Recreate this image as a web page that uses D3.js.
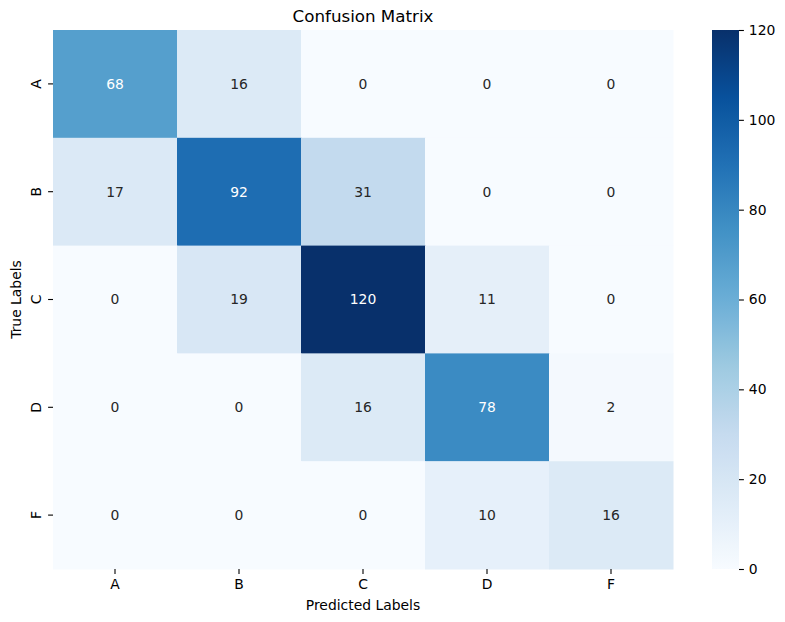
<!DOCTYPE html>
<html lang="en">
<head>
  <meta charset="UTF-8">
  <title>Confusion Matrix</title>
  <script src="https://d3js.org/d3.v7.min.js"></script>
  <style>
    body { margin: 0; background: white; }
    svg { display: block; font-family: "DejaVu Sans", sans-serif; }
  </style>
</head>
<body>
  <div id="chart"></div>
  <script>
    // confusion matrix values, rows = true label, columns = predicted label
    const trueLabels = ["A", "B", "C", "D", "F"];
    const predLabels = ["A", "B", "C", "D", "F"];
    const matrix = [
      [68, 16, 0, 0, 0],
      [17, 92, 31, 0, 0],
      [0, 19, 120, 11, 0],
      [0, 0, 16, 78, 2],
      [0, 0, 0, 10, 16]
    ];
    const colorTicks = [0, 20, 40, 60, 80, 100, 120];

    const width = 785, height = 622;
    const plot = { left: 53, top: 30, right: 673, bottom: 569 };
    const bar = { left: 712, right: 739 };

    // matplotlib "Blues" (linear segments)
    const blues = ["#f7fbff", "#deebf7", "#c6dbef", "#9ecae1", "#6baed6", "#4292c6", "#2171b5", "#08519c", "#08306b"];
    const color = d3.scaleLinear()
      .domain(d3.range(blues.length).map(i => i * 120 / (blues.length - 1)))
      .range(blues)
      .interpolate(d3.interpolateRgb);

    const x = d3.scaleBand().domain(predLabels).range([plot.left, plot.right]);
    const y = d3.scaleBand().domain(trueLabels).range([plot.top, plot.bottom]);

    const svg = d3.select("#chart").append("svg")
      .attr("width", width).attr("height", height);

    const cells = [];
    matrix.forEach((row, i) => row.forEach((v, j) => cells.push({ r: trueLabels[i], c: predLabels[j], v })));

    svg.append("g").selectAll("rect")
      .data(cells).join("rect")
        .attr("x", d => x(d.c))
        .attr("y", d => y(d.r))
        .attr("width", x.bandwidth() + 0.5)
        .attr("height", y.bandwidth() + 0.5)
        .attr("fill", d => color(d.v));

    function textColor(v) {
      const c = d3.rgb(color(v));
      const lum = [c.r, c.g, c.b].map(u => {
        u /= 255;
        return u <= 0.03928 ? u / 12.92 : Math.pow((u + 0.055) / 1.055, 2.4);
      });
      const l = 0.2126 * lum[0] + 0.7152 * lum[1] + 0.0722 * lum[2];
      return l > 0.408 ? "#262626" : "white";
    }

    svg.append("g").selectAll("text")
      .data(cells).join("text")
        .attr("x", d => x(d.c) + x.bandwidth() / 2)
        .attr("y", d => y(d.r) + y.bandwidth() / 2)
        .attr("dy", "0.35em")
        .attr("text-anchor", "middle")
        .attr("font-size", 13.9)
        .attr("fill", d => textColor(d.v))
        .text(d => d.v);

    // x axis
    const xAxis = svg.append("g")
      .attr("transform", `translate(0,${plot.bottom})`)
      .call(d3.axisBottom(x).tickSize(4.9).tickPadding(4.9));
    xAxis.select(".domain").remove();
    xAxis.selectAll("text").attr("font-size", 13.9).attr("font-family", "DejaVu Sans").attr("fill", "black");
    xAxis.selectAll("line").attr("stroke", "black").attr("stroke-width", 1.1);

    // y axis, labels rotated
    const yAxis = svg.append("g")
      .attr("transform", `translate(${plot.left},0)`)
      .call(d3.axisLeft(y).tickSize(4.9).tickPadding(4.9));
    yAxis.select(".domain").remove();
    yAxis.selectAll("line").attr("stroke", "black").attr("stroke-width", 1.1);
    yAxis.selectAll("text")
      .attr("font-size", 13.9).attr("font-family", "DejaVu Sans").attr("fill", "black")
      .attr("x", null).attr("dy", null)
      .attr("text-anchor", "middle")
      .attr("transform", "translate(-12,0) rotate(-90)")
      .attr("dominant-baseline", "auto")
      .attr("y", 0);

    // axis titles
    svg.append("text")
      .attr("x", (plot.left + plot.right) / 2).attr("y", 610)
      .attr("text-anchor", "middle").attr("font-size", 13.9)
      .text("Predicted Labels");
    svg.append("text")
      .attr("transform", `translate(21,${(plot.top + plot.bottom) / 2}) rotate(-90)`)
      .attr("text-anchor", "middle").attr("font-size", 13.9)
      .text("True Labels");
    svg.append("text")
      .attr("x", (plot.left + plot.right) / 2).attr("y", 22)
      .attr("text-anchor", "middle").attr("font-size", 16.7)
      .text("Confusion Matrix");

    // colorbar
    const cy = d3.scaleLinear().domain([0, 120]).range([plot.bottom, plot.top]);
    const defs = svg.append("defs");
    const grad = defs.append("linearGradient")
      .attr("id", "cbar").attr("x1", 0).attr("y1", 1).attr("x2", 0).attr("y2", 0);
    grad.selectAll("stop")
      .data(d3.range(0, 121, 5)).join("stop")
        .attr("offset", d => d / 120)
        .attr("stop-color", d => color(d));
    svg.append("rect")
      .attr("x", bar.left).attr("y", plot.top)
      .attr("width", bar.right - bar.left).attr("height", plot.bottom - plot.top)
      .attr("fill", "url(#cbar)");

    const cAxis = svg.append("g")
      .attr("transform", `translate(${bar.right},0)`)
      .call(d3.axisRight(cy).tickValues(colorTicks).tickSize(4.9).tickPadding(4.9));
    cAxis.select(".domain").remove();
    cAxis.selectAll("line").attr("stroke", "black").attr("stroke-width", 1.1);
    cAxis.selectAll("text").attr("font-size", 13.9).attr("font-family", "DejaVu Sans").attr("fill", "black");
  </script>
</body>
</html>
